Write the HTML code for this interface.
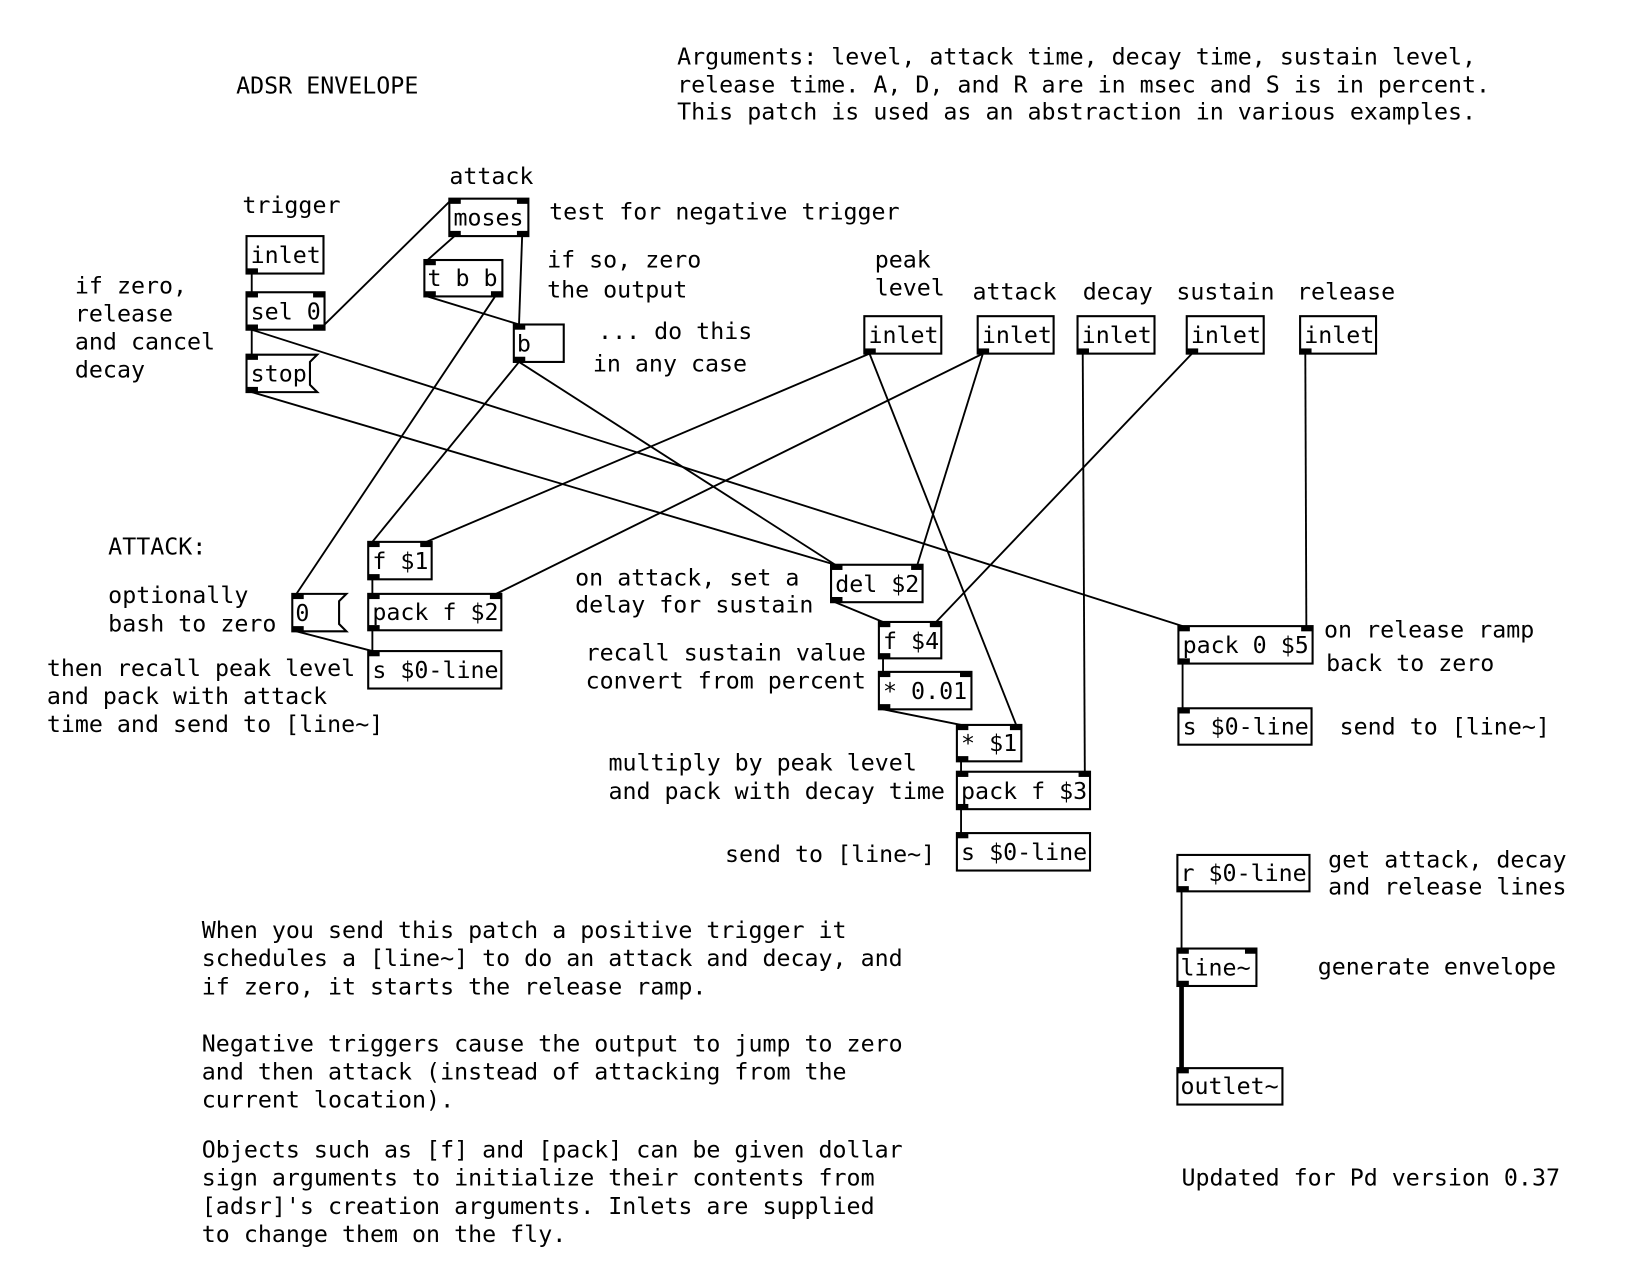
<!DOCTYPE html>
<html><head><meta charset="utf-8"><style>
html,body{margin:0;padding:0;background:#fff;}
svg{display:block;}
text{font-family:"DejaVu Sans Mono","Liberation Mono",monospace;font-size:22.4px;fill:#000;}
.b{fill:#fff;stroke:#000;stroke-width:2;}
.c{stroke:#000;stroke-width:1.8;fill:none;}
.s{stroke:#000;stroke-width:4.5;fill:none;}
.n{fill:#000;}
</style></head><body>
<svg width="1634" height="1272" viewBox="0 0 1571 1223" xmlns="http://www.w3.org/2000/svg">
<g class="c">
<line x1="242" y1="263" x2="242" y2="281"/>
<line x1="242" y1="317" x2="242" y2="341"/>
<line x1="307" y1="317" x2="435" y2="191"/>
<line x1="242" y1="317" x2="1137" y2="602"/>
<line x1="242" y1="377" x2="803" y2="543"/>
<line x1="437" y1="227" x2="411" y2="250"/>
<line x1="502" y1="227" x2="499" y2="312"/>
<line x1="411" y1="285" x2="499" y2="312"/>
<line x1="476" y1="285" x2="285" y2="571"/>
<line x1="499" y1="348" x2="358" y2="521"/>
<line x1="499" y1="348" x2="803" y2="543"/>
<line x1="836" y1="340" x2="410" y2="521"/>
<line x1="836" y1="340" x2="977" y2="697"/>
<line x1="945" y1="340" x2="477" y2="571"/>
<line x1="945" y1="340" x2="882" y2="543"/>
<line x1="1041" y1="340" x2="1043" y2="742"/>
<line x1="1146" y1="340" x2="900" y2="598"/>
<line x1="1255" y1="340" x2="1256" y2="602"/>
<line x1="358" y1="557" x2="358" y2="571"/>
<line x1="358" y1="606" x2="358" y2="626"/>
<line x1="285" y1="607" x2="358" y2="626"/>
<line x1="803" y1="579" x2="849" y2="598"/>
<line x1="849" y1="633" x2="849" y2="646"/>
<line x1="849" y1="682" x2="924" y2="697"/>
<line x1="924" y1="732" x2="924" y2="742"/>
<line x1="924" y1="778" x2="924" y2="801"/>
<line x1="1137" y1="638" x2="1137" y2="681"/>
<line x1="1136" y1="857" x2="1136" y2="912"/>
</g>
<line class="s" x1="1136" y1="948" x2="1136" y2="1027"/>

<g class="b">
<rect x="237" y="227" width="74" height="36"/>
<rect x="237" y="281" width="75" height="36"/>
<polygon points="237,341 305,341 298,348 298,370 305,377 237,377"/>
<rect x="432" y="191" width="76" height="36"/>
<rect x="408" y="250" width="75" height="35"/>
<rect x="494" y="312" width="48" height="36"/>
<rect x="831" y="304" width="74" height="36"/>
<rect x="940" y="304" width="73" height="36"/>
<rect x="1036" y="304" width="74" height="36"/>
<rect x="1141" y="304" width="74" height="36"/>
<rect x="1250" y="304" width="73" height="36"/>
<rect x="354" y="521" width="61" height="36"/>
<rect x="354" y="571" width="128" height="35"/>
<polygon points="281,571 333,571 326,578 326,600 333,607 281,607"/>
<rect x="354" y="626" width="128" height="36"/>
<rect x="799" y="543" width="88" height="36"/>
<rect x="845" y="598" width="60" height="35"/>
<rect x="845" y="646" width="89" height="36"/>
<rect x="920" y="697" width="62" height="35"/>
<rect x="920" y="742" width="128" height="36"/>
<rect x="920" y="801" width="128" height="36"/>
<rect x="1133" y="602" width="129" height="36"/>
<rect x="1133" y="681" width="128" height="35"/>
<rect x="1132" y="822" width="127" height="35"/>
<rect x="1132" y="912" width="76" height="36"/>
<rect x="1132" y="1027" width="101" height="35"/>
</g>

<g class="n">
<rect x="237" y="258" width="11" height="5"/>
<rect x="237" y="281" width="11" height="5"/><rect x="301" y="281" width="11" height="5"/>
<rect x="237" y="312" width="11" height="5"/><rect x="301" y="312" width="11" height="5"/>
<rect x="237" y="341" width="11" height="5"/><rect x="237" y="372" width="11" height="5"/>
<rect x="432" y="191" width="11" height="5"/><rect x="497" y="191" width="11" height="5"/>
<rect x="432" y="222" width="11" height="5"/><rect x="497" y="222" width="11" height="5"/>
<rect x="408" y="250" width="11" height="5"/>
<rect x="408" y="280" width="11" height="5"/><rect x="472" y="280" width="11" height="5"/>
<rect x="494" y="312" width="11" height="5"/><rect x="494" y="343" width="11" height="5"/>
<rect x="831" y="335" width="11" height="5"/>
<rect x="940" y="335" width="11" height="5"/>
<rect x="1036" y="335" width="11" height="5"/>
<rect x="1141" y="335" width="11" height="5"/>
<rect x="1250" y="335" width="11" height="5"/>
<rect x="354" y="521" width="11" height="5"/><rect x="404" y="521" width="11" height="5"/>
<rect x="354" y="552" width="11" height="5"/>
<rect x="354" y="571" width="11" height="5"/><rect x="471" y="571" width="11" height="5"/>
<rect x="354" y="601" width="11" height="5"/>
<rect x="281" y="571" width="11" height="5"/><rect x="281" y="602" width="11" height="5"/>
<rect x="354" y="626" width="11" height="5"/>
<rect x="799" y="543" width="11" height="5"/><rect x="876" y="543" width="11" height="5"/>
<rect x="799" y="574" width="11" height="5"/>
<rect x="845" y="598" width="11" height="5"/><rect x="894" y="598" width="11" height="5"/>
<rect x="845" y="628" width="11" height="5"/>
<rect x="845" y="646" width="11" height="5"/><rect x="923" y="646" width="11" height="5"/>
<rect x="845" y="677" width="11" height="5"/>
<rect x="920" y="697" width="11" height="5"/><rect x="971" y="697" width="11" height="5"/>
<rect x="920" y="727" width="11" height="5"/>
<rect x="920" y="742" width="11" height="5"/><rect x="1037" y="742" width="11" height="5"/>
<rect x="920" y="773" width="11" height="5"/>
<rect x="920" y="801" width="11" height="5"/>
<rect x="1133" y="602" width="11" height="5"/><rect x="1251" y="602" width="11" height="5"/>
<rect x="1133" y="633" width="11" height="5"/>
<rect x="1133" y="681" width="11" height="5"/>
<rect x="1132" y="852" width="11" height="5"/>
<rect x="1132" y="912" width="11" height="5"/><rect x="1197" y="912" width="11" height="5"/>
<rect x="1132" y="943" width="11" height="5"/>
<rect x="1132" y="1027" width="11" height="5"/>
</g>

<text x="241" y="253">inlet</text>
<text x="241" y="307">sel 0</text>
<text x="241" y="367">stop</text>
<text x="436" y="217">moses</text>
<text x="411" y="275">t b b</text>
<text x="497" y="338">b</text>
<text x="835" y="330">inlet</text>
<text x="944" y="330">inlet</text>
<text x="1040" y="330">inlet</text>
<text x="1145" y="330">inlet</text>
<text x="1254" y="330">inlet</text>
<text x="358" y="547">f $1</text>
<text x="358" y="596">pack f $2</text>
<text x="284" y="597">0</text>
<text x="358" y="652">s $0-line</text>
<text x="803" y="569">del $2</text>
<text x="849" y="624">f $4</text>
<text x="849" y="672">* 0.01</text>
<text x="924" y="722">* $1</text>
<text x="924" y="768">pack f $3</text>
<text x="924" y="827">s $0-line</text>
<text x="1137" y="628">pack 0 $5</text>
<text x="1137" y="706">s $0-line</text>
<text x="1135" y="847">r $0-line</text>
<text x="1135" y="938">line~</text>
<text x="1135" y="1052">outlet~</text>

<text x="227" y="90">ADSR ENVELOPE</text>
<text x="651" y="62">Arguments: level, attack time, decay time, sustain level,</text>
<text x="651" y="89">release time. A, D, and R are in msec and S is in percent.</text>
<text x="651" y="115">This patch is used as an abstraction in various examples.</text>
<text x="432" y="177">attack</text>
<text x="233" y="205">trigger</text>
<text x="528" y="211">test for negative trigger</text>
<text x="526" y="257">if so, zero</text>
<text x="526" y="286">the output</text>
<text x="72" y="282">if zero,</text>
<text x="72" y="309">release</text>
<text x="72" y="336">and cancel</text>
<text x="72" y="363">decay</text>
<text x="575" y="326">... do this</text>
<text x="570" y="357">in any case</text>
<text x="841" y="257">peak</text>
<text x="841" y="284">level</text>
<text x="935" y="288">attack</text>
<text x="1041" y="288">decay</text>
<text x="1131" y="288">sustain</text>
<text x="1247" y="288">release</text>
<text x="104" y="533">ATTACK:</text>
<text x="104" y="580">optionally</text>
<text x="104" y="607">bash to zero</text>
<text x="45" y="650">then recall peak level</text>
<text x="45" y="677">and pack with attack</text>
<text x="45" y="704">time and send to [line~]</text>
<text x="553" y="563">on attack, set a</text>
<text x="553" y="589">delay for sustain</text>
<text x="563" y="635">recall sustain value</text>
<text x="563" y="662">convert from percent</text>
<text x="585" y="741">multiply by peak level</text>
<text x="585" y="768">and pack with decay time</text>
<text x="697" y="829">send to [line~]</text>
<text x="1273" y="613">on release ramp</text>
<text x="1275" y="645">back to zero</text>
<text x="1288" y="706">send to [line~]</text>
<text x="1277" y="834">get attack, decay</text>
<text x="1277" y="860">and release lines</text>
<text x="1267" y="937">generate envelope</text>
<text x="1136" y="1140">Updated for Pd version 0.37</text>
<text x="194" y="902">When you send this patch a positive trigger it</text>
<text x="194" y="929">schedules a [line~] to do an attack and decay, and</text>
<text x="194" y="956">if zero, it starts the release ramp.</text>
<text x="194" y="1011">Negative triggers cause the output to jump to zero</text>
<text x="194" y="1038">and then attack (instead of attacking from the</text>
<text x="194" y="1065">current location).</text>
<text x="194" y="1113">Objects such as [f] and [pack] can be given dollar</text>
<text x="194" y="1140">sign arguments to initialize their contents from</text>
<text x="194" y="1167">[adsr]'s creation arguments. Inlets are supplied</text>
<text x="194" y="1194">to change them on the fly.</text>
</svg>
</body></html>
